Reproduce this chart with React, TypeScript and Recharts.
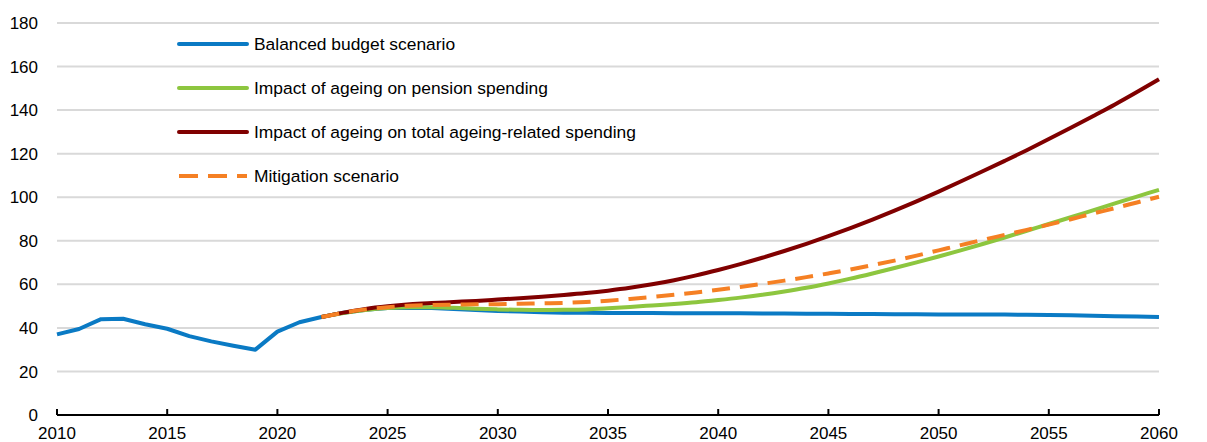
import React from 'react';
import { LineChart, Line, XAxis, YAxis, CartesianGrid, Legend } from 'recharts';

const years = [
  2010, 2011, 2012, 2013, 2014, 2015, 2016, 2017, 2018, 2019,
  2020, 2021, 2022, 2023, 2024, 2025, 2026, 2027, 2028, 2029,
  2030, 2031, 2032, 2033, 2034, 2035, 2036, 2037, 2038, 2039,
  2040, 2041, 2042, 2043, 2044, 2045, 2046, 2047, 2048, 2049,
  2050, 2051, 2052, 2053, 2054, 2055, 2056, 2057, 2058, 2059, 2060,
];

// 2010-2060
const balancedBudget = [
  37.0, 39.5, 44.0, 44.2, 41.7, 39.6, 36.2, 33.8, 31.8, 30.0,
  38.3, 42.6, 45.0, 47.0, 48.3, 49.1, 49.3, 49.1, 48.7, 48.2,
  47.8, 47.5, 47.2, 47.0, 46.9, 46.8, 46.8, 46.8, 46.7, 46.7,
  46.7, 46.7, 46.6, 46.6, 46.5, 46.5, 46.4, 46.4, 46.3, 46.3,
  46.2, 46.2, 46.1, 46.1, 46.0, 45.9, 45.8, 45.6, 45.4, 45.2, 45.0,
];

// projections start in 2022
const projectionStart = 2022;
const pensionAgeing = [
  45.0, 46.8, 48.2, 49.1, 49.5, 49.5, 49.2, 48.8, 48.5, 48.3,
  48.2, 48.3, 48.5, 49.0, 49.6, 50.3, 51.0, 51.8, 52.8, 53.9,
  55.2, 56.7, 58.4, 60.4, 62.6, 65.0, 67.5, 70.1, 72.8, 75.6,
  78.5, 81.5, 84.6, 87.7, 90.8, 94.0, 97.2, 100.3, 103.4,
];
const totalAgeing = [
  45.0, 47.0, 48.7, 49.9, 50.8, 51.4, 51.9, 52.4, 53.0, 53.6,
  54.3, 55.1, 56.0, 57.1, 58.4, 60.0, 61.9, 64.1, 66.6, 69.3,
  72.2, 75.3, 78.6, 82.1, 85.8, 89.7, 93.8, 98.1, 102.6, 107.2,
  111.9, 116.7, 121.6, 126.7, 131.9, 137.2, 142.6, 148.3, 154.2,
];
const mitigation = [
  45.0, 47.0, 48.5, 49.5, 50.2, 50.5, 50.7, 50.8, 50.9, 51.1,
  51.3, 51.5, 51.9, 52.5, 53.3, 54.2, 55.2, 56.3, 57.5, 58.8,
  60.2, 61.7, 63.3, 65.0, 66.8, 68.8, 70.9, 73.2, 75.6, 78.0,
  80.4, 82.7, 85.0, 87.4, 89.9, 92.5, 95.0, 97.6, 100.2,
];

const xTicks = [2010, 2015, 2020, 2025, 2030, 2035, 2040, 2045, 2050, 2055, 2060];
const yTicks = [0, 20, 40, 60, 80, 100, 120, 140, 160, 180];

const seriesNames = {
  balanced: 'Balanced budget scenario',
  pension: 'Impact of ageing on pension spending',
  total: 'Impact of ageing on total ageing-related spending',
  mitigation: 'Mitigation scenario',
};

const COLORS = {
  balanced: '#0a7ac4',
  pension: '#8dc63f',
  total: '#800000',
  mitigation: '#f58024',
};

const FONT = '"Liberation Sans", Arial, Helvetica, sans-serif';

const proj = (arr: number[], year: number) => {
  const i = year - projectionStart;
  return i >= 0 && i < arr.length ? arr[i] : null;
};

const data = years.map((year, i) => ({
  year,
  balanced: balancedBudget[i],
  pension: proj(pensionAgeing, year),
  total: proj(totalAgeing, year),
  mitigation: proj(mitigation, year),
}));

const XTick = (props: any) => {
  const { x, y, payload } = props;
  return (
    <g>
      <line x1={x} x2={x} y1={y - 6} y2={y} stroke="#000" strokeWidth={2} />
      <text x={x} y={y + 24} textAnchor="middle" fontSize={17} fontFamily={FONT} fill="#000">
        {payload.value}
      </text>
    </g>
  );
};

const YTick = (props: any) => {
  const { x, y, payload, anchor } = props;
  return (
    <text x={x} y={y} dy="0.36em" textAnchor={anchor} fontSize={17} fontFamily={FONT} fill="#000">
      {payload.value}
    </text>
  );
};

const legendItems = [
  { key: 'balanced', dash: undefined as string | undefined },
  { key: 'pension', dash: undefined },
  { key: 'total', dash: undefined },
  { key: 'mitigation', dash: '19 10' },
];

const renderLegend = () => (
  <svg width={700} height={200} style={{ display: 'block' }}>
    {legendItems.map((it, i) => {
      const cy = 44 + i * 44;
      const k = it.key as keyof typeof COLORS;
      return (
        <g key={it.key}>
          <line
            x1={179}
            x2={247}
            y1={cy}
            y2={cy}
            stroke={COLORS[k]}
            strokeWidth={4}
            strokeLinecap={it.dash ? 'butt' : 'round'}
            strokeDasharray={it.dash}
          />
          <text x={254} y={cy} dy="0.36em" fontSize={17.4} fontFamily={FONT} fill="#000">
            {seriesNames[k]}
          </text>
        </g>
      );
    })}
  </svg>
);

export default function App() {
  return (
    <div style={{ position: 'absolute', left: 0, top: 0, background: '#fff' }}>
      <LineChart
        width={1207}
        height={442}
        data={data}
        margin={{ top: 23, right: 0, bottom: 0, left: 0 }}
      >
        <CartesianGrid vertical={false} stroke="#d9d9d9" strokeWidth={2} />
        <XAxis
          dataKey="year"
          type="number"
          domain={[2010, 2060]}
          ticks={xTicks}
          height={27}
          axisLine={{ stroke: '#000', strokeWidth: 2 }}
          tickLine={false}
          tickSize={0}
          tickMargin={0}
          tick={<XTick />}
          interval={0}
        />
        <YAxis
          yAxisId={0}
          domain={[0, 180]}
          ticks={yTicks}
          width={57}
          axisLine={false}
          tickLine={false}
          tickSize={0}
          tickMargin={19}
          tick={<YTick anchor="end" />}
          interval={0}
        />
        <YAxis
          yAxisId="right"
          orientation="right"
          domain={[0, 180]}
          ticks={yTicks}
          width={48}
          axisLine={false}
          tickLine={false}
          tickSize={0}
          tickMargin={19}
          tick={<YTick anchor="start" />}
          interval={0}
        />
        <Legend
          layout="vertical"
          align="center"
          verticalAlign="middle"
          content={renderLegend}
          wrapperStyle={{ position: 'absolute', left: 0, top: 0, width: 700, height: 200 }}
        />
        <Line
          type="linear"
          dataKey="balanced"
          name={seriesNames.balanced}
          stroke={COLORS.balanced}
          strokeWidth={4}
          strokeLinejoin="round"
          dot={false}
          activeDot={false}
          isAnimationActive={false}
        />
        <Line
          type="monotone"
          dataKey="pension"
          name={seriesNames.pension}
          stroke={COLORS.pension}
          strokeWidth={4}
          strokeLinejoin="round"
          dot={false}
          activeDot={false}
          isAnimationActive={false}
        />
        <Line
          type="monotone"
          dataKey="total"
          name={seriesNames.total}
          stroke={COLORS.total}
          strokeWidth={4}
          strokeLinejoin="round"
          dot={false}
          activeDot={false}
          isAnimationActive={false}
        />
        <Line
          type="monotone"
          dataKey="mitigation"
          name={seriesNames.mitigation}
          stroke={COLORS.mitigation}
          strokeWidth={4}
          strokeDasharray="18 10"
          dot={false}
          activeDot={false}
          isAnimationActive={false}
        />
      </LineChart>
    </div>
  );
}
